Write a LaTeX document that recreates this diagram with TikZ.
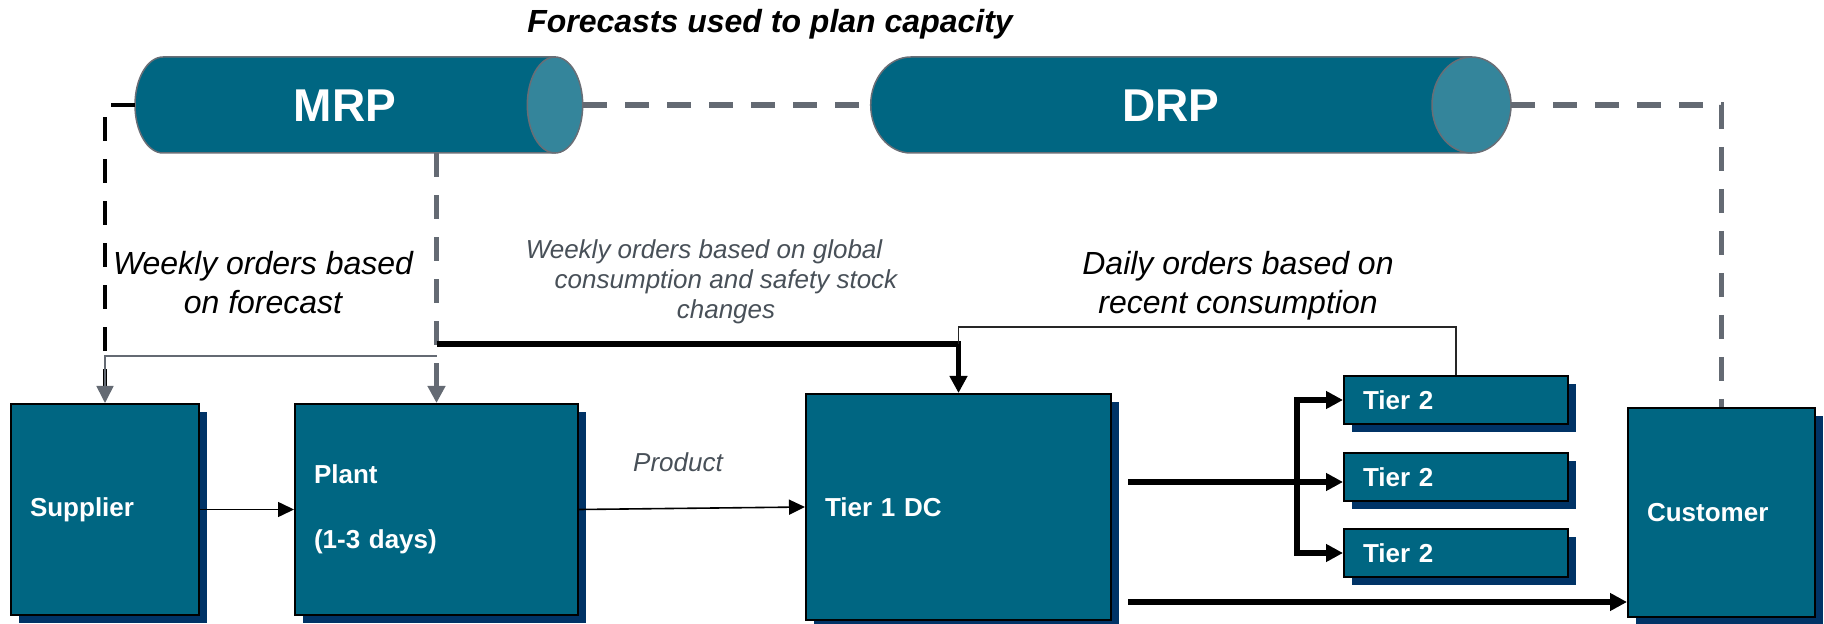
\documentclass[tikz,border=0pt]{standalone}
\usepackage{fontspec}
\setmainfont{Liberation Sans}
\usetikzlibrary{arrows.meta,shadows,calc}

\definecolor{tealbox}{RGB}{0,102,130}
\definecolor{navyshadow}{RGB}{0,51,102}
\definecolor{capfill}{RGB}{52,133,155}
\definecolor{rimgrey}{RGB}{105,110,118}
\definecolor{linkgrey}{RGB}{100,106,115}
\definecolor{notegrey}{RGB}{72,80,88}

\begin{document}
\begin{tikzpicture}[x=0.5pt,y=-0.5pt,
  box/.style={draw=black, line width=1pt, fill=tealbox, text=white,
    font=\fontsize{13pt}{15.6pt}\selectfont\bfseries, align=left,
    inner xsep=9.5pt, inner ysep=0pt,
    drop shadow={shadow xshift=4pt, shadow yshift=-4pt, fill=navyshadow, opacity=1}},
  frame/.style={inner sep=0pt, minimum height=48pt},
  drumlabel/.style={text=white, font=\fontsize{23pt}{27pt}\selectfont\bfseries},
  greydash/.style={draw=linkgrey, line width=2.75pt, dash pattern=on 12pt off 9pt},
  blackdash/.style={draw=black, line width=2.4pt, dash pattern=on 12pt off 9pt},
  greytip/.style={-{Triangle[length=8.5pt,width=8.5pt,color=linkgrey]}},
  thinarrow/.style={draw=black, line width=0.8pt, -{Triangle[length=8pt,width=7.5pt]}},
  thickarrow/.style={draw=black, line width=2.6pt, -{Triangle[length=8.5pt,width=8.5pt]}},
  thinlink/.style={draw=black!85, line width=0.8pt},
  bignote/.style={font=\fontsize{16pt}{19.5pt}\selectfont\itshape, align=center, inner sep=0pt},
  smallnote/.style={font=\fontsize{13pt}{15pt}\selectfont\itshape, text=notegrey, align=center, inner sep=0pt}
]
\useasboundingbox (0,0) rectangle (1824,624);

% ---- planning drums ----
\node[frame, minimum width=224pt] (mrp) at (359,105) {};
\node[frame, minimum width=320.15pt] (drp) at (1190.85,105) {};

\draw[rimgrey, line width=0.75pt, fill=tealbox]
  (555,57) -- (163,57) arc[start angle=90, end angle=270, x radius=14pt, y radius=24pt] -- (555,153) -- cycle;
\draw[rimgrey, line width=0.75pt, fill=capfill] (555,105) ellipse [x radius=13.85pt, y radius=24pt];
\node[drumlabel] (mrplabel) at ($(mrp.center)+(-14,1)$) {MRP};

\draw[rimgrey, line width=0.75pt, fill=tealbox]
  (1471.5,57) -- (910.7,57) arc[start angle=90, end angle=270, x radius=20pt, y radius=24pt] -- (1471.5,153) -- cycle;
\draw[rimgrey, line width=0.75pt, fill=capfill] (1471.5,105) ellipse [x radius=19.75pt, y radius=24pt];
\node[drumlabel] (drplabel) at ($(drp.center)+(-20,1)$) {DRP};

% ---- supply chain stages ----
\node[box, text width=75pt, minimum height=105.5pt] (supplier) at (105,509.5) {Supplier};
\node[box, text width=122.5pt, minimum height=105.5pt] (plant) at (436.5,509.5) {Plant\\[17pt](1-3 days)};
\node[box, text width=133.5pt, minimum height=113pt] (tier1) at (958.5,507) {Tier 1 DC};
\node[box, text width=93pt, minimum height=24pt] (t2a) at (1456,400) {Tier 2};
\node[box, text width=93pt, minimum height=24pt] (t2b) at (1456,477) {Tier 2};
\node[box, text width=93pt, minimum height=24pt] (t2c) at (1456,553) {Tier 2};
\node[box, text width=74.5pt, minimum height=104.5pt] (customer) at (1721.5,512.5) {Customer};

% ---- helper points ----
\coordinate (j1) at ($(plant.north)+(0,-47)$);
\coordinate (j0) at ($(plant.north)+(0,-59)$);
\coordinate (k) at ($(tier1.north)+(0,-66)$);
\coordinate (o1) at ($(tier1.east)+(16,-25)$);
\coordinate (br) at ($(o1)+(169,0)$);
\coordinate (o2) at ($(tier1.east)+(16,95)$);

% ---- forecast links ----
\draw[greydash] (mrp.east) -- (drp.west);
\draw[greydash] (drp.east) -| (customer.north);
\draw[blackdash, shorten >=8pt] (mrp.west) -| (supplier.north);
\draw[greydash, greytip] (mrp.south -| plant.north) -- (plant.north);
\draw[draw=linkgrey, line width=0.8pt, greytip] (j1) -| (supplier.north);

% ---- order links ----
\draw[thickarrow] (j0) -| (tier1.north);
\draw[thinlink] (t2a.north) |- (k) -- (k |- j0);

% ---- product flow ----
\draw[thinarrow] (supplier.east) -- (plant.west);
\draw[thinarrow] (plant.east) -- (tier1.west);
\draw[thickarrow] (o1) -- (o1 -| t2b.west);
\draw[thickarrow] (br) |- (t2a.west);
\draw[thickarrow] (br) |- (t2c.west);
\draw[thickarrow] (o2) -- (o2 -| customer.west);

% ---- notes ----
\node[font=\fontsize{16pt}{19pt}\selectfont\bfseries\itshape, anchor=base] (title) at (770,33) {Forecasts used to plan capacity};
\node[bignote] (weeklyfc) at (263,283) {Weekly orders based\\on forecast};
\node[smallnote] (weeklygl) at (726,282) {Weekly orders based on global\rule{22pt}{0pt}\\consumption and safety stock\\changes};
\node[bignote] (daily) at (1238,286) {Daily orders based on\\recent consumption};
\node[smallnote, anchor=base] (product) at (678,472) {Product};
\end{tikzpicture}
\end{document}
